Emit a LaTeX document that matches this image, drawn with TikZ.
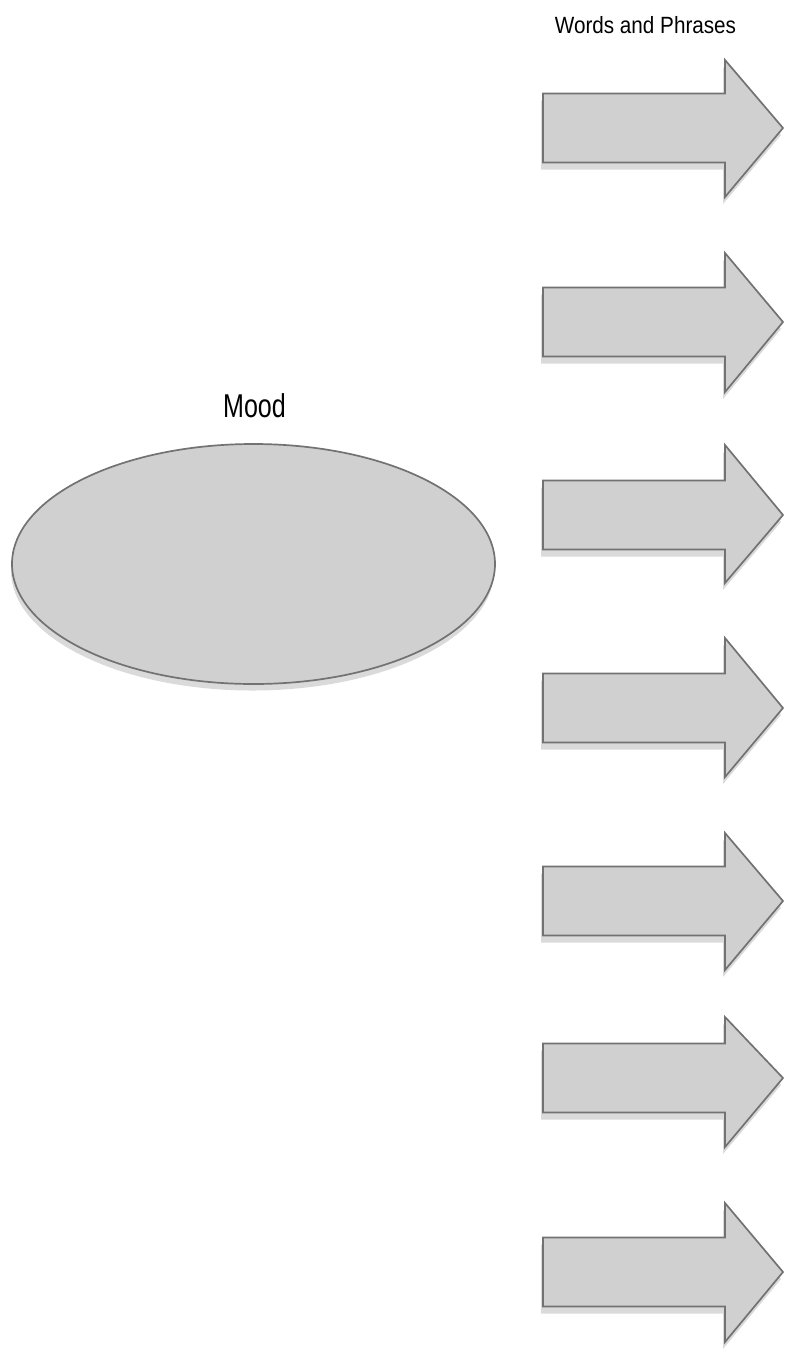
\documentclass[tikz,border=0pt]{standalone}
\usepackage{fontspec}
\setmainfont{Liberation Sans}
\newfontfamily\moodfont{Liberation Sans}[FakeStretch=0.76]
\newfontfamily\wordsfont{Liberation Sans}[FakeStretch=0.88]
\definecolor{shapefill}{HTML}{D0D0D0}
\definecolor{shapeline}{HTML}{727272}
\definecolor{shadowfill}{HTML}{DADADA}
\tikzset{
  shapebody/.style={fill=shapefill, draw=shapeline, line width=1.7pt, line join=miter},
  shapeshadow/.style={fill=shadowfill, draw=none},
  labeltext/.style={inner sep=0pt, text=black, anchor=base},
}
\begin{document}
\begin{tikzpicture}[x=1pt,y=-1pt]
\useasboundingbox (0,0) rectangle (786,1353);
% title labels
\node[labeltext, font=\wordsfont\fontsize{23.5}{26}\selectfont] (words) at (645.5,33) {Words and Phrases};
\node[labeltext, font=\moodfont\fontsize{33}{36}\selectfont] (mood) at (254.5,417) {Mood};
% ellipse with shadow
\fill[shapeshadow] (252.5,570.5) ellipse [x radius=241.5, y radius=120];
\draw[shapebody] (253.5,564) ellipse [x radius=241.5, y radius=120];
% arrows: center y, head top, head bottom
\foreach \c/\ht/\hb [count=\i] in {128/60/197, 322/253/392, 515/445/583, 708/638/777, 901/833/970, 1078/1017/1147, 1272/1203/1342}{
  \fill[shapeshadow, shift={(-2,7)}] (543,\c-34.5) -- (725,\c-34.5) -- (725,\ht) -- (783,\c) -- (725,\hb) -- (725,\c+34.5) -- (543,\c+34.5) -- cycle;
  \draw[shapebody] (543,\c-34.5) -- (725,\c-34.5) -- (725,\ht) -- (783,\c) -- (725,\hb) -- (725,\c+34.5) -- (543,\c+34.5) -- cycle;
}
\end{tikzpicture}
\end{document}
